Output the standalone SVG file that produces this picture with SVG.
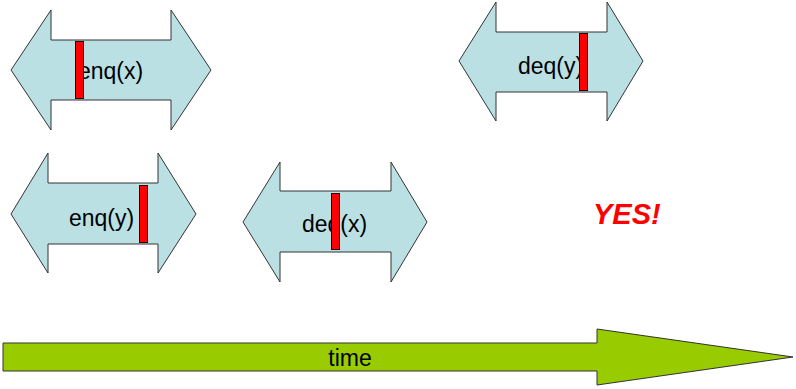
<svg xmlns="http://www.w3.org/2000/svg" width="796" height="389" viewBox="0 0 796 389">
  <style>
    .op { fill: #BBE0E3; stroke: #333333; stroke-width: 1; }
    .bar { fill: #FF0000; stroke: #330000; stroke-width: 1; }
    .lbl { font-family: "Liberation Sans", Arial, sans-serif; font-size: 23px; fill: #000000; }
    .time { fill: #99CC00; stroke: #333333; stroke-width: 1; }
    .yes { font-family: "Liberation Sans", Arial, sans-serif; font-size: 29px; font-weight: bold; font-style: italic; fill: #FF0000; }
  </style>
  <rect width="796" height="389" fill="#FFFFFF"/>

  <!-- enq(x): double-headed interval with linearization point -->
  <g id="enq-x">
    <polygon class="op" points="11,70 51,10 51,40 171,40 171,10 211,70 171,130 171,100 51,100 51,130"/>
    <text class="lbl" x="78" y="79">enq(x)</text>
    <rect class="bar" x="75.5" y="41.5" width="8" height="57"/>
  </g>

  <!-- deq(y) -->
  <g id="deq-y">
    <polygon class="op" points="459,61 496,2 496,32 607,32 607,2 643,61 607,121 607,92 496,92 496,121"/>
    <text class="lbl" x="518" y="74">deq(y)</text>
    <rect class="bar" x="579.5" y="33.5" width="8" height="57"/>
  </g>

  <!-- enq(y) -->
  <g id="enq-y">
    <polygon class="op" points="11,214 48,153 48,183 158,183 158,153 196,214 158,273 158,244 48,244 48,273"/>
    <text class="lbl" x="69" y="226">enq(y)</text>
    <rect class="bar" x="139.5" y="185.5" width="8" height="57"/>
  </g>

  <!-- deq(x) -->
  <g id="deq-x">
    <polygon class="op" points="243,222 280,162 280,191 391,191 391,162 427,222 391,282 391,252 280,252 280,282"/>
    <text class="lbl" x="302" y="232">deq(x)</text>
    <rect class="bar" x="331.5" y="193.5" width="8" height="56"/>
  </g>

  <!-- verdict -->
  <g id="verdict">
    <text class="yes" x="593" y="224">YES!</text>
  </g>

  <!-- time axis -->
  <g id="connectors">
    <polygon class="time" points="3,343 597,343 597,329 793,357 597,385 597,371 3,371"/>
    <text class="lbl" x="350" y="366" text-anchor="middle">time</text>
  </g>
</svg>
